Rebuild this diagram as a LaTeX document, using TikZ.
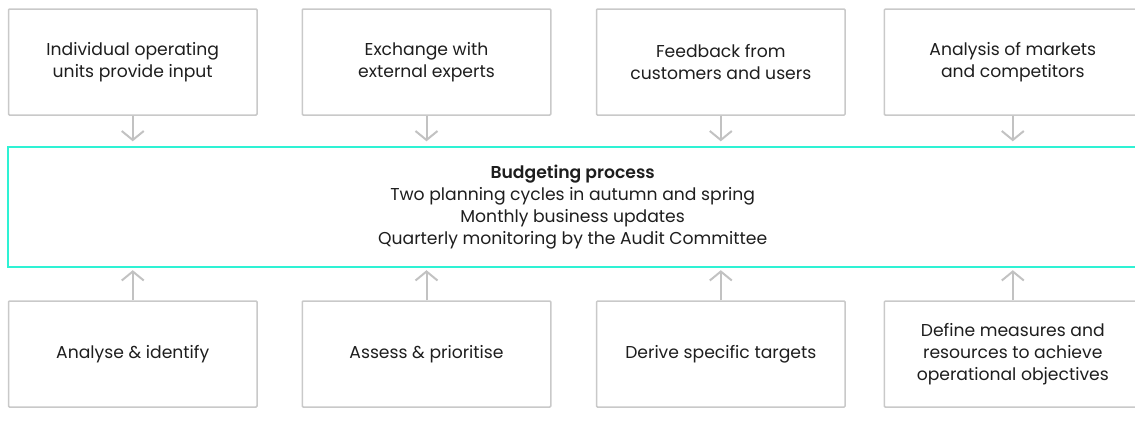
\documentclass[tikz,border=0pt]{standalone}
\usepackage{fontspec}
\setmainfont{Poppins}[BoldFont={* SemiBold}]
\usetikzlibrary{arrows.meta}
\definecolor{boxgray}{HTML}{C9C9C9}
\definecolor{arrgray}{HTML}{C2C2C2}
\definecolor{teal}{HTML}{2EF2D4}
\definecolor{ink}{HTML}{1E1E1E}
\begin{document}
\begin{tikzpicture}[x=1pt,y=-1pt,
  srcbox/.style={draw=boxgray, line width=1.5pt, rounded corners=1pt, fill=white,
    minimum width=248.5pt, minimum height=106pt, align=center, text=ink,
    font=\fontsize{17.2}{22}\selectfont},
  widebox/.style={srcbox, minimum width=257pt},
  procbox/.style={draw=teal, line width=2pt, fill=white,
    minimum width=1128.7pt, minimum height=119.4pt, align=center, text=ink,
    font=\fontsize{17.2}{22}\selectfont},
  arr/.style={draw=arrgray, line width=2pt,
    -{Straight Barb[length=9pt,width=22pt,line width=2pt]}}]
\useasboundingbox (0,0) rectangle (1135,434);
\clip (0,0) rectangle (1135,434);
% budgeting process band
\node[procbox] (proc) at (572.65,207) {{\bfseries Budgeting process}\\
  Two planning cycles in autumn and spring\\
  Monthly business updates\\
  Quarterly monitoring by the Audit Committee};
% input sources
\node[srcbox] (in1) at (132.75,62) {Individual operating\\units provide input};
\node[srcbox] (in2) at (426.5,62) {Exchange with\\external experts};
\node[srcbox] (in3) at (720.8,62) {Feedback from\\customers and users};
\node[widebox] (in4) at (1012.8,62) {Analysis of markets\\and competitors};
% process steps
\node[srcbox] (st1) at (132.75,354) {Analyse \& identify};
\node[srcbox] (st2) at (426.5,354) {Assess \& prioritise};
\node[srcbox] (st3) at (720.8,354) {Derive specific targets};
\node[widebox] (st4) at (1012.8,354) {Define measures and\\resources to achieve\\operational objectives};
% connectors
\foreach \n in {1,2,3,4}{
  \draw[arr, shorten >=5pt] (in\n.south) -- (in\n.south |- proc.north);
  \draw[arr, shorten >=2.5pt] (st\n.north) -- (st\n.north |- proc.south);
}
\end{tikzpicture}
\end{document}
